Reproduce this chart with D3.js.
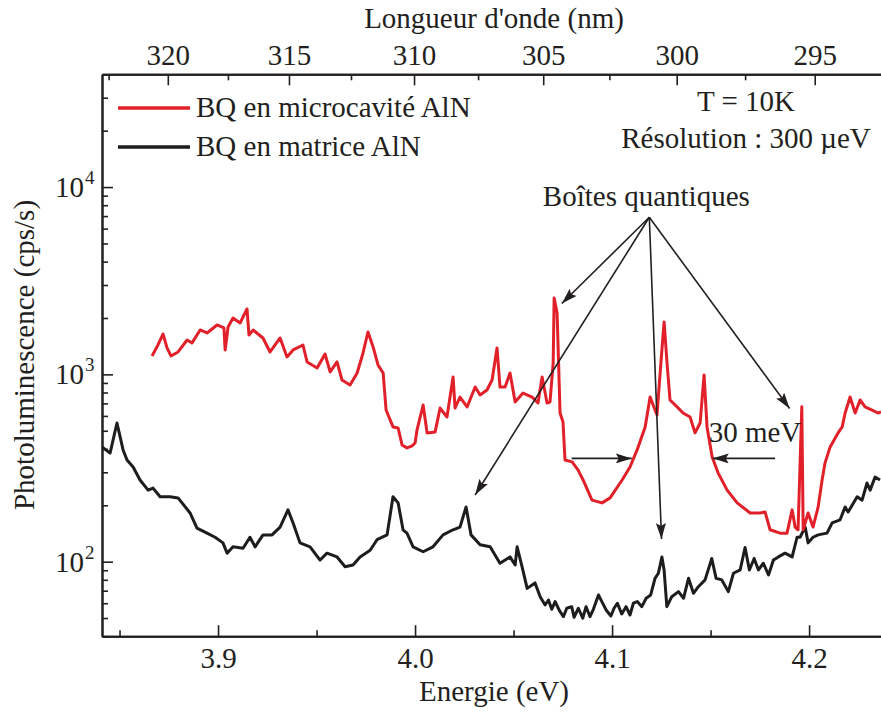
<!DOCTYPE html>
<html><head><meta charset="utf-8">
<script src="https://cdn.jsdelivr.net/npm/d3@7"></script>
<style>
body{margin:0;background:#fff;position:relative;}
#wrap{position:relative;width:881px;height:713px;}
</style></head>
<body><div id="wrap"><svg id="chart" width="881" height="713"></svg></div>
<script>
// ---- data ----
const energyMicro = [3.8665,3.8695,3.8721,3.8741,3.8761,3.8797,3.8843,3.8868,3.8909,3.8944,3.8995,3.9030,3.9036,3.9051,3.9076,3.9112,3.9147,3.9157,3.9178,3.9228,3.9264,3.9315,3.9350,3.9381,3.9431,3.9452,3.9503,3.9543,3.9569,3.9604,3.9629,3.9670,3.9706,3.9736,3.9761,3.9787,3.9812,3.9838,3.9853,3.9888,3.9914,3.9934,3.9959,3.9985,4.0000,4.0010,4.0041,4.0061,4.0102,4.0127,4.0162,4.0193,4.0203,4.0228,4.0264,4.0305,4.0330,4.0365,4.0391,4.0416,4.0431,4.0457,4.0482,4.0508,4.0548,4.0594,4.0624,4.0645,4.0670,4.0685,4.0701,4.0706,4.0721,4.0736,4.0751,4.0761,4.0797,4.0827,4.0853,4.0898,4.0949,4.0990,4.1051,4.1091,4.1127,4.1168,4.1193,4.1228,4.1249,4.1264,4.1279,4.1294,4.1330,4.1360,4.1396,4.1421,4.1447,4.1467,4.1482,4.1508,4.1538,4.1584,4.1635,4.1701,4.1751,4.1777,4.1802,4.1853,4.1888,4.1914,4.1929,4.1944,4.1963,4.1970,4.1995,4.2020,4.2046,4.2066,4.2081,4.2107,4.2147,4.2168,4.2183,4.2208,4.2234,4.2259,4.2284,4.2320,4.2350,4.2365];
const plMicro = [1254,1435,1643,1384,1254,1317,1526,1472,1726,1663,1835,1769,1350,1791,2000,1881,2235,1623,1726,1564,1317,1564,1239,1350,1435,1165,1082,1285,1030,1165,933,878,1017,1301,1684,1401,1123,1017,645,524,517,420,405,415,430,505,686,487,493,661,592,968,661,757,670,856,776,825,933,1384,856,856,1017,712,795,757,703,968,703,712,1150,2558,2127,622,557,349,341,309,273,213,206,219,273,320,395,524,757,607,1194,1905,1150,730,670,622,592,487,550,993,524,362,298,241,206,182,182,184,148,142,142,189,153,148,672,148,182,153,196,273,337,410,487,524,622,757,622,730,670,645,622,630];
const energyMatrix = [3.8411,3.8452,3.8487,3.8518,3.8538,3.8569,3.8604,3.8645,3.8670,3.8706,3.8756,3.8797,3.8858,3.8893,3.8944,3.8985,3.9025,3.9046,3.9076,3.9127,3.9162,3.9188,3.9228,3.9274,3.9315,3.9355,3.9381,3.9416,3.9467,3.9518,3.9553,3.9604,3.9645,3.9685,3.9721,3.9772,3.9807,3.9858,3.9888,3.9914,3.9939,3.9959,3.9990,4.0041,4.0091,4.0142,4.0193,4.0228,4.0259,4.0284,4.0330,4.0381,4.0431,4.0482,4.0508,4.0518,4.0543,4.0569,4.0609,
  4.0635,4.0660,4.0677,4.0694,4.0711,4.0733,4.0753,4.0770,4.0795,4.0807,4.0829,4.0851,4.0868,4.0888,4.0905,4.0931,4.0948,4.0970,4.0994,4.1010,4.1027,4.1049,4.1071,4.1091,4.1108,4.1128,4.1151,4.1173,4.1196,4.1218,4.1235,4.1253,4.1264,4.1278,4.1303,4.1337,4.1363,4.1388,4.1413,4.1438,4.1472,4.1506,4.1528,4.1557,4.1590,4.1616,4.1650,4.1675,4.1697,4.1721,4.1743,4.1768,4.1794,4.1819,4.1844,
  4.1878,4.1914,4.1939,4.1954,4.1980,4.1995,4.2020,4.2046,4.2091,4.2117,4.2157,4.2183,4.2198,4.2244,4.2269,4.2294,4.2310,4.2335,4.2360];
const plMatrix = [410,380,550,395,349,320,273,241,247,222,222,219,182,151,142,135,126,111,120,118,135,120,139,139,153,189,161,126,120,102,111,106,94,96,106,115,131,139,222,206,148,142,120,113,120,139,148,153,196,139,123,120,98,106,96,120,94,72,77,
  65,58.7,62.4,55.7,61.2,54.8,50.9,56.4,57.5,50.5,56.4,49.9,57.5,50.9,55.7,66.4,61.2,55.2,51.3,56.4,60.0,52.6,57.5,51.9,60.0,61.2,57.5,63.8,66.4,81.5,86.7,106,90.3,57.5,65.0,69.2,63.8,81.5,67.8,73.5,79.9,104,81.5,79.9,69.2,86.7,90.3,119,90.3,104,90.3,98.1,84.9,102,106,
  111,106,135,135,153,126,135,139,142,161,167,196,184,222,213,263,241,283,273];
const energyTicks = [3.9, 4.0, 4.1, 4.2];
const energyMinorTicks = [3.85, 3.95, 4.05, 4.15];
const wavelengthTicks = [320, 315, 310, 305, 300, 295];
const wavelengthMinorTicks = [322.5, 317.5, 312.5, 307.5, 302.5, 297.5];
const plDecades = [100, 1000, 10000];
const plDecadeExp = ["2", "3", "4"];
const plMinorTicks = [40,50,60,70,80,90,200,300,400,500,600,700,800,900,2000,3000,4000,5000,6000,7000,8000,9000,20000,30000,40000];
const seriesNames = ["BQ en microcavité AlN", "BQ en matrice AlN"];
const seriesColors = ["#e2202a", "#1e1c1d"];
// annotation anchors (energy eV, PL cps/s)
const qdOrigin = [4.1189, 6900];
const qdTargets = [[4.0745, 2390], [4.0305, 227], [4.1251, 132], [4.1901, 657]];
const widthLevel = 356;
const widthArrows = [[4.0795, 4.1100], [4.1827, 4.1511]];
const HC = 1239.84;

// ---- scales ----
const svg = d3.select("#chart");
const L = 102, R = 881, T = 74.3, B = 636.2;
const x = d3.scaleLinear().domain([3.8411, 4.2365]).range([L, R]);
const y = d3.scaleLog().domain([40, 40000]).range([B, T]);
const ink = "#231f20";
const FONT = "Liberation Serif";
const FS = 29;

svg.append("defs").append("clipPath").attr("id","clip")
  .append("rect").attr("x",L).attr("y",T).attr("width",R-L).attr("height",B-T);
const marker = svg.select("defs").append("marker").attr("id","arr")
  .attr("viewBox","0 0 16 10").attr("refX",16).attr("refY",5)
  .attr("markerWidth",16).attr("markerHeight",10).attr("markerUnits","userSpaceOnUse")
  .attr("orient","auto");
marker.append("path").attr("d","M0,0 L16,5 L0,10 L3,5 Z").attr("fill",ink);

// ---- curves ----
const line = d3.line().x(d => x(d[0])).y(d => y(d[1]));
const g = svg.append("g").attr("clip-path","url(#clip)");
g.append("path").datum(energyMatrix.map((e,i)=>[e,plMatrix[i]]))
  .attr("d",line).attr("fill","none").attr("stroke",seriesColors[1]).attr("stroke-width",3).attr("stroke-linejoin","round");
g.append("path").datum(energyMicro.map((e,i)=>[e,plMicro[i]]))
  .attr("d",line).attr("fill","none").attr("stroke",seriesColors[0]).attr("stroke-width",3).attr("stroke-linejoin","round");

// ---- axes ----
function styleAxis(sel){
  sel.attr("font-family",null).attr("font-size",null);
  sel.select(".domain").attr("stroke",ink).attr("stroke-width",2);
  sel.selectAll(".tick line").attr("stroke",ink).attr("stroke-width",1.6);
  sel.selectAll("text").attr("style",`font-family:${FONT};font-size:${FS}px`).attr("fill",ink);
}
const xb = svg.append("g").attr("transform",`translate(0,${B})`)
  .call(d3.axisBottom(x).tickValues(energyTicks).tickSizeInner(-11).tickSizeOuter(0).tickPadding(11).tickFormat(d3.format(".1f")));
styleAxis(xb);
const xbm = svg.append("g").attr("transform",`translate(0,${B})`)
  .call(d3.axisBottom(x).tickValues(energyMinorTicks).tickSizeInner(-6).tickSizeOuter(0).tickFormat(""));
styleAxis(xbm);

const xt = svg.append("g").attr("transform",`translate(0,${T})`)
  .call(d3.axisTop(x).tickValues(wavelengthTicks.map(l=>HC/l)).tickSizeInner(-11).tickSizeOuter(0).tickPadding(9)
    .tickFormat(e => Math.round(HC/e)));
styleAxis(xt);
const xtm = svg.append("g").attr("transform",`translate(0,${T})`)
  .call(d3.axisTop(x).tickValues(wavelengthMinorTicks.map(l=>HC/l).filter(e=>e>=x.domain()[0])).tickSizeInner(-6).tickSizeOuter(0).tickFormat(""));
styleAxis(xtm);

const yl = svg.append("g").attr("transform",`translate(${L},0)`)
  .call(d3.axisLeft(y).tickValues(plDecades).tickSizeInner(-11).tickSizeOuter(0).tickFormat(""));
styleAxis(yl);
const ylm = svg.append("g").attr("transform",`translate(${L},0)`)
  .call(d3.axisLeft(y).tickValues(plMinorTicks).tickSizeInner(-6).tickSizeOuter(0).tickFormat(""));
styleAxis(ylm);

function txt(xx, yy, s, size, anchor){
  return svg.append("text").attr("x",xx).attr("y",yy)
    .attr("style",`font-family:${FONT};font-size:${size}px`)
    .attr("text-anchor",anchor||"start").attr("fill",ink).text(s);
}
plDecades.forEach((v,i)=>{
  txt(84, y(v)+10, "10", FS, "end");
  txt(85, y(v)-3, plDecadeExp[i], 19);
});

// ---- titles ----
txt(494, 28, "Longueur d'onde (nm)", FS, "middle");
txt(494, 701, "Energie (eV)", FS, "middle");
svg.append("text").attr("transform","translate(34,355) rotate(-90)").attr("text-anchor","middle")
  .attr("style",`font-family:${FONT};font-size:${FS}px`).attr("fill",ink).text("Photoluminescence (cps/s)");

// ---- legend ----
seriesNames.forEach((n,i)=>{
  const yy = 108 + i*39;
  svg.append("line").attr("x1",118).attr("x2",190).attr("y1",yy).attr("y2",yy).attr("stroke",seriesColors[i]).attr("stroke-width",3.5);
  txt(196, yy+9, n, FS);
});

// ---- annotations ----
txt(746, 111, "T = 10K", FS, "middle");
txt(746, 148, "Résolution : 300 µeV", FS, "middle");
txt(x(qdOrigin[0])-3, 206, "Boîtes quantiques", FS, "middle");
qdTargets.forEach(t=>{
  svg.append("line").attr("x1",x(qdOrigin[0])).attr("y1",y(qdOrigin[1]))
    .attr("x2",x(t[0])).attr("y2",y(t[1])).attr("stroke",ink).attr("stroke-width",1.6).attr("marker-end","url(#arr)");
});
widthArrows.forEach(a=>{
  svg.append("line").attr("x1",x(a[0])).attr("x2",x(a[1])).attr("y1",y(widthLevel)).attr("y2",y(widthLevel))
    .attr("stroke",ink).attr("stroke-width",1.6).attr("marker-end","url(#arr)");
});
txt(755, 442, "30 meV", FS, "middle");
</script></body></html>
